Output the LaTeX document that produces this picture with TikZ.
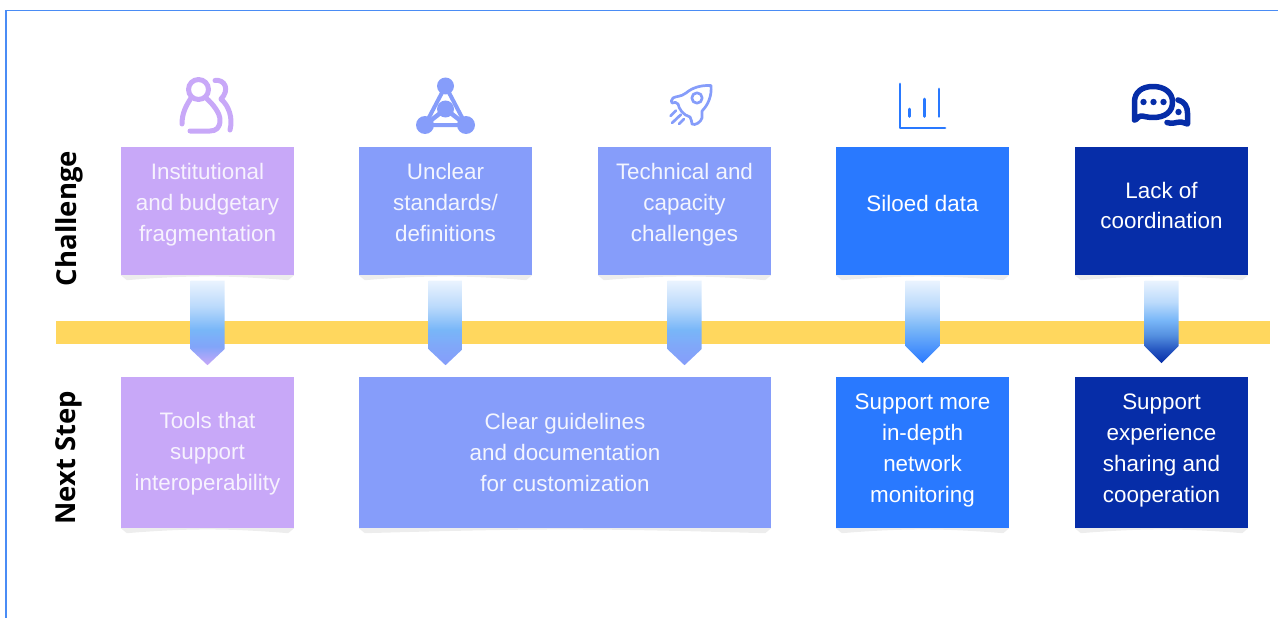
\documentclass[tikz,border=0pt]{standalone}
\usepackage{fontspec}
\setmainfont{Liberation Sans}
\newfontfamily\sidefont{Open Sans}
\usetikzlibrary{calc}

\definecolor{lilac}{HTML}{C8A8F8}
\definecolor{periwinkle}{HTML}{869DFA}
\definecolor{azure}{HTML}{2979FF}
\definecolor{navy}{HTML}{062DA8}
\definecolor{bandyellow}{HTML}{FFD75E}
\definecolor{framecol}{HTML}{4A8CF5}
\definecolor{skyfade}{HTML}{78B6F8}
\definecolor{paleedge}{HTML}{EAF3FE}
\definecolor{midnavy}{HTML}{2555C0}
\definecolor{lightnavy}{HTML}{5590E0}

\pgfdeclareverticalshading{fadelilac}{100bp}{color(0bp)=(lilac); color(25bp)=(lilac); color(36bp)=(periwinkle!70!skyfade); color(46bp)=(skyfade); color(60bp)=(skyfade!50!white); color(75bp)=(paleedge); color(100bp)=(paleedge)}
\pgfdeclareverticalshading{fadeperi}{100bp}{color(0bp)=(periwinkle); color(25bp)=(periwinkle); color(36bp)=(periwinkle!60!skyfade); color(46bp)=(skyfade); color(60bp)=(skyfade!50!white); color(75bp)=(paleedge); color(100bp)=(paleedge)}
\pgfdeclareverticalshading{fadeazure}{100bp}{color(0bp)=(azure); color(25bp)=(azure); color(46bp)=(skyfade); color(60bp)=(skyfade!50!white); color(75bp)=(paleedge); color(100bp)=(paleedge)}
\pgfdeclareverticalshading{fadenavy}{100bp}{color(0bp)=(navy); color(25bp)=(navy); color(33bp)=(midnavy); color(42bp)=(lightnavy); color(51bp)=(skyfade); color(62bp)=(skyfade!50!white); color(75bp)=(paleedge); color(100bp)=(paleedge)}

\tikzset{
  chalbox/.style={minimum width=173pt,minimum height=128pt,inner sep=0pt},
  nextbox/.style={minimum width=173pt,minimum height=151pt,inner sep=0pt},
  boxtext/.style={text=white,align=center,inner sep=0pt,font=\fontsize{22.4}{30.8}\selectfont},
  sidetext/.style={rotate=90,inner sep=0pt,font=\sidefont\bfseries\fontsize{27.5}{30}\selectfont},
  icon/.style={line cap=round,line join=round},
}
% arrow: first node, shading, tip distance, shoulder distance
\newcommand{\fadearrow}[4]{
\path[shading=#2] ($(#1.south)+(-17,5.5)$) -- ($(#1.south)+(17,5.5)$) -- ($(#1.south)+(17,#4)$) -- ($(#1.south)+(0,#3)$) -- ($(#1.south)+(-17,#4)$) -- cycle;
}
\newcommand{\boxshadow}[1]{
\fill[black!7] (#1.south west) -- ($(#1.south west)+(6,5)$) .. controls ($(#1.south)+(-20,0)$) and ($(#1.south)+(20,0)$) .. ($(#1.south east)+(-6,5)$) -- (#1.south east) -- cycle;
}

\begin{document}
\begin{tikzpicture}[x=1pt,y=-1pt]
\useasboundingbox (0,0) rectangle (1278,618);
\draw[framecol,line width=1.8pt] (6,618) -- (6,10.5) -- (1278,10.5);

\node[sidetext] (chal) at (69,218.5){Challenge};
\node[sidetext] (next) at (69,457.5){Next Step};

\node[minimum width=1214pt,minimum height=23pt,inner sep=0pt,fill=bandyellow] (band) at (663,332.5){};

\node[chalbox,fill=lilac] (chalA) at (207.5,211){};
\node[chalbox,fill=periwinkle] (chalB) at (445.5,211){};
\node[chalbox,fill=periwinkle] (chalC) at (684.5,211){};
\node[chalbox,fill=azure] (chalD) at (922.5,211){};
\node[chalbox,fill=navy] (chalE) at (1161.5,211){};

\node[boxtext,text=lilac!15!white] (chalAtext) at (207.5,204.5){Institutional\\and budgetary\\fragmentation};
\node[boxtext,text=periwinkle!10!white] (chalBtext) at (445.5,202.5){Unclear\\standards/\\definitions};
\node[boxtext,text=periwinkle!10!white] (chalCtext) at (684.5,204.5){Technical and\\capacity\\challenges};
\node[boxtext] (chalDtext) at (922.5,203){Siloed data};
\node[boxtext] (chalEtext) at (1161.5,205.5){Lack of\\coordination};

\node[nextbox,fill=lilac] (nextA) at (207.5,452.5){};
\node[nextbox,fill=periwinkle,minimum width=412pt] (nextB) at (565,452.5){};
\node[nextbox,fill=azure] (nextD) at (922.5,452.5){};
\node[nextbox,fill=navy] (nextE) at (1161.5,452.5){};

\node[boxtext,text=lilac!15!white] (nextAtext) at (207.5,453.5){Tools that\\support\\interoperability};
\node[boxtext,text=periwinkle!10!white] (nextBtext) at (565,452.5){Clear guidelines\\and documentation\\for customization};
\node[boxtext] (nextDtext) at (922.5,450.5){Support more\\in-depth\\network\\monitoring};
\node[boxtext] (nextEtext) at (1161.5,450.5){Support\\experience\\sharing and\\cooperation};

\boxshadow{chalA}
\boxshadow{chalB}
\boxshadow{chalC}
\boxshadow{chalD}
\boxshadow{chalE}
\boxshadow{nextA}
\boxshadow{nextB}
\boxshadow{nextD}
\boxshadow{nextE}

\fadearrow{chalA}{fadelilac}{90}{74}
\fadearrow{chalB}{fadeperi}{90}{74}
\fadearrow{chalC}{fadeperi}{90}{74}
\fadearrow{chalD}{fadeazure}{88}{71}
\fadearrow{chalE}{fadenavy}{88}{71}

% icons
\begin{scope}[icon,draw=lilac,line width=5pt]
\draw (198.5,89.5) circle (10);
\draw (182,124) .. controls (182,113) and (186,106) .. (191,98);
\draw (206,98) .. controls (213,104) and (220,113) .. (220,120) .. controls (220,128) and (216,131) .. (210,131) -- (190,131);
\draw (215,80.5) .. controls (225,79) and (230,90) .. (221,99) .. controls (229,106) and (233,118) .. (230,130);
\end{scope}

\begin{scope}[icon,draw=periwinkle,fill=periwinkle]
\draw[line width=4pt] (445.5,86) -- (425,125) -- (466,125) -- cycle;
\draw[line width=4.5pt] (425,125) -- (445.5,109) -- (466,125);
\fill (445.5,86) circle (8.5);
\fill (445.5,109) circle (8.5);
\fill (425,125) circle (9);
\fill (466,125) circle (9);
\end{scope}

\begin{scope}[icon,draw=periwinkle,line width=2.7pt]
\draw (711,85.5) .. controls (700,85) and (692,88) .. (686,93) .. controls (681,97) and (676,96) .. (673,98) .. controls (671,100) and (671,102) .. (672,103) .. controls (674,102) and (677,102) .. (678,104) .. controls (679,109) and (683,115) .. (690,117) .. controls (692,119) and (691,122) .. (692,124) .. controls (695,126) and (701,122) .. (702,118) .. controls (703,115) and (701,113) .. (702,111) .. controls (708,105) and (712,96) .. (711,85.5) -- cycle;
\draw (697,98) circle (5.2);
\draw (670.5,116) -- (676,110.5) (672,123) -- (681,114.5) (679,124) -- (684,119);
\end{scope}

\begin{scope}[icon,draw=azure,line width=2.8pt]
\draw (900,84) -- (900,128) -- (945,128);
\draw (909.5,109) -- (909.5,116.5);
\draw (924.5,99) -- (924.5,116.5);
\draw (939,89) -- (939,116.5);
\end{scope}

\begin{scope}[icon,draw=navy,fill=navy,line width=5.5pt]
\draw (1134.5,120) -- (1134.5,102) .. controls (1134.5,92) and (1142,86.5) .. (1153,86.5) .. controls (1165,86.5) and (1172.5,93) .. (1172.5,102) .. controls (1172.5,112) and (1165,117.5) .. (1153,117.5) .. controls (1147,117.5) and (1144,116) .. (1141,116) .. controls (1138,116) and (1137,120) .. (1134.5,120);
\draw (1178,100) .. controls (1185,102) and (1187.5,107) .. (1187.5,113) -- (1187.5,124) .. controls (1185,124) and (1184,122) .. (1181,122) .. controls (1176,122) and (1172,124.5) .. (1167,122.5);
\fill (1143.5,102) circle (3.2);
\fill (1153.5,102) circle (3.2);
\fill (1163.5,102) circle (3.2);
\fill (1178.5,112) circle (3.2);
\end{scope}
\end{tikzpicture}
\end{document}
